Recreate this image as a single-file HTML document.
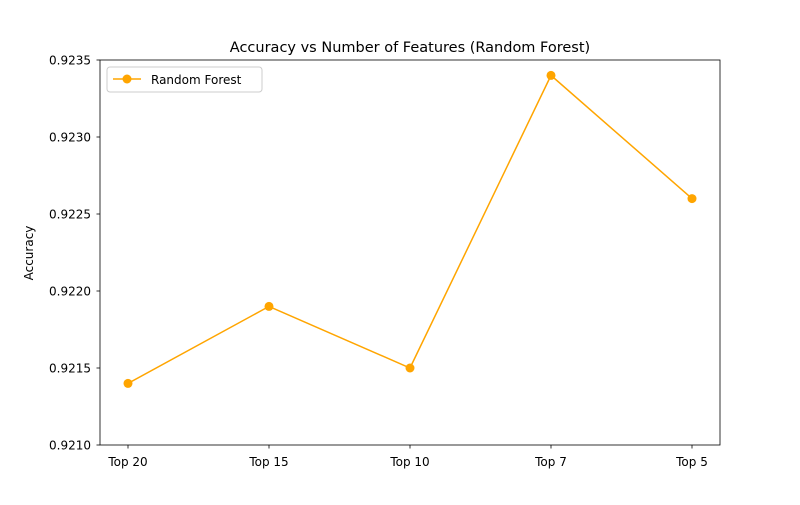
<!DOCTYPE html>
<html><head><meta charset="utf-8"><style>
body{margin:0;background:#fff;font-family:"Liberation Sans","DejaVu Sans",sans-serif}
svg text{font-family:"DejaVu Sans","Liberation Sans",sans-serif;fill:#000}
</style></head><body>
<svg id="chart" width="800" height="500">
<rect width="800" height="500" fill="#fff"/>
<text x="410" y="52" font-size="14.5" text-anchor="middle">Accuracy vs Number of Features (Random Forest)</text>
<text transform="translate(33,253) rotate(-90)" font-size="12" text-anchor="middle">Accuracy</text>
<g id="ticks"></g>
<g id="marks"></g>
<rect x="100" y="60" width="620" height="385" fill="none" stroke="#000" stroke-width="0.8"/>
<g>
<rect x="107" y="67" width="155" height="25" rx="3" fill="#fff" stroke="#ccc"/>
<line x1="113" y1="79" x2="141" y2="79" stroke="#ffa500" stroke-width="1.5"/>
<circle cx="127" cy="79" r="4.5" fill="#ffa500"/>
<text x="151" y="84" font-size="12">Random Forest</text>
</g>
</svg>
<script>
const categories=["Top 20","Top 15","Top 10","Top 7","Top 5"];
const accuracy=[0.9214,0.9219,0.9215,0.9234,0.9226];
const yTicks=[0.9210,0.9215,0.9220,0.9225,0.9230,0.9235];
const NS="http://www.w3.org/2000/svg";
const x0=128,dx=141,yMin=0.9210,yMax=0.9235,yTop=60,yBot=445;
const xs=i=>x0+i*dx;
const ys=v=>yBot-(v-yMin)/(yMax-yMin)*(yBot-yTop);
function mk(t,a,p){const e=document.createElementNS(NS,t);for(const k in a)e.setAttribute(k,a[k]);p.appendChild(e);return e;}
const tg=document.getElementById('ticks'),mg=document.getElementById('marks');
yTicks.forEach(v=>{const y=ys(v);
const l=mk('line',{x1:96.5,x2:100,y1:y,y2:y,stroke:'#000','stroke-width':0.8},tg);


const t=mk('text',{x:91,y:y+4.5,'font-size':12,'text-anchor':'end'},tg);t.textContent=v.toFixed(4);

});
categories.forEach((c,i)=>{const x=xs(i);
const l=mk('line',{x1:x,x2:x,y1:445,y2:448.5,stroke:'#000','stroke-width':0.8},tg);


const t=mk('text',{x:x,y:466,'font-size':12,'text-anchor':'middle'},tg);t.textContent=c;

});
const pl=mk('polyline',{points:accuracy.map((v,i)=>xs(i)+','+ys(v)).join(' '),fill:'none',stroke:'#ffa500','stroke-width':1.5},mg);


accuracy.forEach((v,i)=>{const c=mk('circle',{cx:xs(i),cy:ys(v),r:4.5,fill:'#ffa500'},mg);

});
</script>
</body></html>
